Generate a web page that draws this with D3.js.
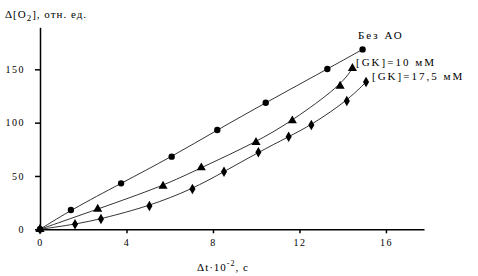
<!DOCTYPE html>
<html><head><meta charset="utf-8">
<script src="https://cdn.jsdelivr.net/npm/d3@7"></script>
<style>
body{margin:0;background:#fff;}
text{font-family:"Liberation Serif","Times New Roman",serif;fill:#000;}
</style></head>
<body><svg id="c" width="478" height="276"></svg>
<script>
// Data
const seriesNames = ["Без АО", "[GK]=10 мМ", "[GK]=17,5 мМ"];
const xNoAO = [0, 1.43, 3.75, 6.09, 8.2, 10.44, 13.29, 14.92];
const yNoAO = [0, 18.1, 43.1, 68.1, 93.1, 118.7, 150.3, 168.7];
const xGK10 = [0, 2.67, 5.69, 7.46, 9.99, 11.67, 13.88, 14.45];
const yGK10 = [0, 19.0, 40.6, 57.8, 81.6, 101.8, 134.3, 150.9];
const xGK175 = [0, 1.62, 2.82, 5.06, 7.05, 8.51, 10.1, 11.5, 12.55, 14.19, 15.08];
const yGK175 = [0, 4.7, 9.7, 21.8, 37.8, 54.0, 72.2, 86.8, 97.8, 120.3, 138.1];
const xTicks = [0, 4, 8, 12, 16];
const yTicks = [0, 50, 100, 150];

const svg = d3.select("#c");
const x = d3.scaleLinear().domain([0, 17.76]).range([40, 424]);
const y = d3.scaleLinear().domain([0, 189.4]).range([229.3, 27.3]);

// axes
const xAxis = svg.append("g").attr("transform", "translate(0,229.3)")
  .call(d3.axisBottom(x).tickValues(xTicks).tickSize(4).tickSizeOuter(0).tickPadding(6));
const yAxis = svg.append("g").attr("transform", "translate(40,0)")
  .call(d3.axisLeft(y).tickValues(yTicks).tickSize(5).tickSizeOuter(0).tickPadding(10));
[xAxis, yAxis].forEach(a => {
  a.select(".domain").attr("stroke", "#000").attr("stroke-width", 1.5);
  a.selectAll(".tick line").attr("stroke", "#000").attr("stroke-width", 1.5);
  a.selectAll(".tick text").attr("font-family", "Liberation Serif").attr("font-size", 10)
   .attr("letter-spacing", 1.5).attr("fill", "#000");
});

const series = [
  {xs: xNoAO, ys: yNoAO, sym: d3.symbolCircle, size: 32},
  {xs: xGK10, ys: yGK10, sym: d3.symbolTriangle, size: 36},
  {xs: xGK175, ys: yGK175, sym: d3.symbolDiamond, size: 32}
];
const line = d3.line().x(d => x(d[0])).y(d => y(d[1])).curve(d3.curveBasis);
series.forEach(s => {
  const pts = s.xs.map((v, i) => [v, s.ys[i]]);
  svg.append("path").attr("d", line(pts)).attr("fill", "none").attr("stroke", "#000").attr("stroke-width", 0.8);
  svg.selectAll(null).data(pts).enter().append("path")
    .attr("d", d3.symbol().type(s.sym).size(s.size))
    .attr("transform", d => `translate(${x(d[0])},${y(d[1])})`)
    .attr("fill", "#000");
});

// series labels
const lab = [[358, 39], [356, 66], [372, 80]];
seriesNames.forEach((n, i) => {
  svg.append("text").attr("x", lab[i][0]).attr("y", lab[i][1])
    .attr("font-size", 11).attr("letter-spacing", 2).text(n);
});

// y title
const yt = svg.append("text").attr("x", 5).attr("y", 18).attr("font-size", 11).attr("letter-spacing", 1);
yt.append("tspan").text("Δ[O");
yt.append("tspan").attr("dy", 3).attr("font-size", 9).text("2");
yt.append("tspan").attr("dy", -3).text("], отн. ед.");

// x title
const xt = svg.append("text").attr("x", 223).attr("y", 271).attr("text-anchor", "middle").attr("font-size", 11).attr("letter-spacing", 1);
xt.append("tspan").text("Δt·10");
xt.append("tspan").attr("dy", -5).attr("font-size", 8).text("-2");
xt.append("tspan").attr("dy", 5).text(", с");
</script></body></html>
